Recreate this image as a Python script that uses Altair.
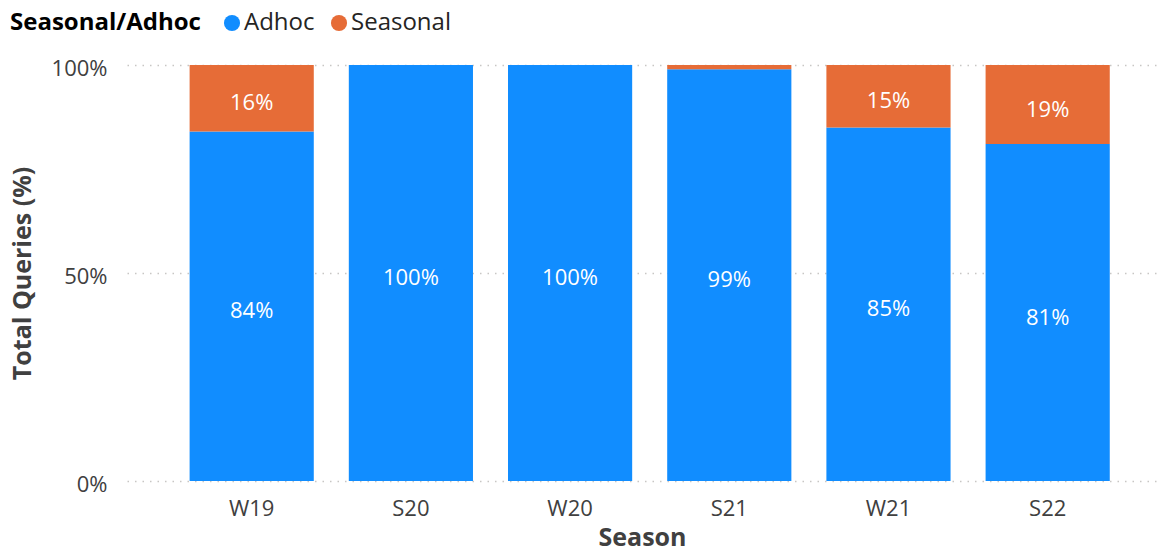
import altair as alt
import pandas as pd

# Share of queries per season, split into ad-hoc and seasonal requests (percent)
seasons = ["W19", "S20", "W20", "S21", "W21", "S22"]
adhoc = [84, 100, 100, 99, 85, 81]
seasonal = [16, 0, 0, 1, 15, 19]

series_names = ["Adhoc", "Seasonal"]
series_colors = ["#118DFF", "#E66C37"]

rows = []
for s, a, z in zip(seasons, adhoc, seasonal):
    rows.append({"Season": s, "Type": "Adhoc", "Share": a, "Order": 0,
                 "Mid": a / 2})
    rows.append({"Season": s, "Type": "Seasonal", "Share": z, "Order": 1,
                 "Mid": a + z / 2})
df = pd.DataFrame(rows)
df["Label"] = df["Share"].map(lambda v: f"{v:.0f}%")

FONT = "Open Sans"
TEXT_GREY = "#404040"

x_enc = alt.X(
    "Season:N",
    sort=seasons,
    scale=alt.Scale(paddingInner=0.22, paddingOuter=0.345, align=0.57),
    axis=alt.Axis(
        title="Season",
        labelAngle=0,
        labelFontSize=22,
        labelColor=TEXT_GREY,
        labelPadding=17,
        titleFontSize=25,
        titleFontWeight="bold",
        titleColor=TEXT_GREY,
        titlePadding=6,
        domain=False,
        ticks=False,
        grid=False,
    ),
)

bars = alt.Chart(df).mark_bar().encode(
    x=x_enc,
    y=alt.Y(
        "Share:Q",
        stack="zero",
        scale=alt.Scale(domain=[0, 100], nice=False),
        axis=alt.Axis(
            title="Total Queries (%)",
            values=[0, 50, 100],
            labelExpr="datum.value + '%'",
            labelFontSize=22,
            labelColor=TEXT_GREY,
            labelPadding=20,
            labelOffset=3,
            titleFontSize=25,
            titleFontWeight="bold",
            titleColor=TEXT_GREY,
            titleX=-92,
            domain=False,
            ticks=False,
            grid=True,
            gridColor="#C8C6C4",
            gridDash=[1.5, 6],
            gridWidth=1.5,
        ),
    ),
    color=alt.Color(
        "Type:N",
        scale=alt.Scale(domain=series_names, range=series_colors),
        legend=alt.Legend(
            title="Seasonal/Adhoc",
            orient="none",
            legendX=-117,
            legendY=-54,
            direction="horizontal",
            titleOrient="left",
            titleFontSize=24,
            titleFontWeight="bold",
            titleColor="#000000",
            titleLimit=400,
            titlePadding=19,
            labelFontSize=24,
            labelColor="#252423",
            labelLimit=300,
            symbolType="circle",
            symbolSize=260,
            symbolStrokeWidth=0,
            symbolOpacity=1,
            columnPadding=12,
            labelOffset=0,
        ),
    ),
    order=alt.Order("Order:Q"),
)

labels = alt.Chart(df).transform_filter(
    alt.datum.Share >= 5
).mark_text(
    color="white", fontSize=22, baseline="middle", align="center", dy=5
).encode(
    x=alt.X("Season:N", sort=seasons),
    y=alt.Y("Mid:Q"),
    text="Label:N",
)

chart = (
    alt.layer(bars, labels)
    .properties(
        width=1030,
        height=416,
        autosize=alt.AutoSizeParams(type="none"),
        padding={"left": 127, "top": 65, "right": 3, "bottom": 73},
    )
    .configure(font=FONT)
    .configure_view(stroke=None)
)

chart.save("out.html", embed_options={"renderer": "svg", "actions": False})
